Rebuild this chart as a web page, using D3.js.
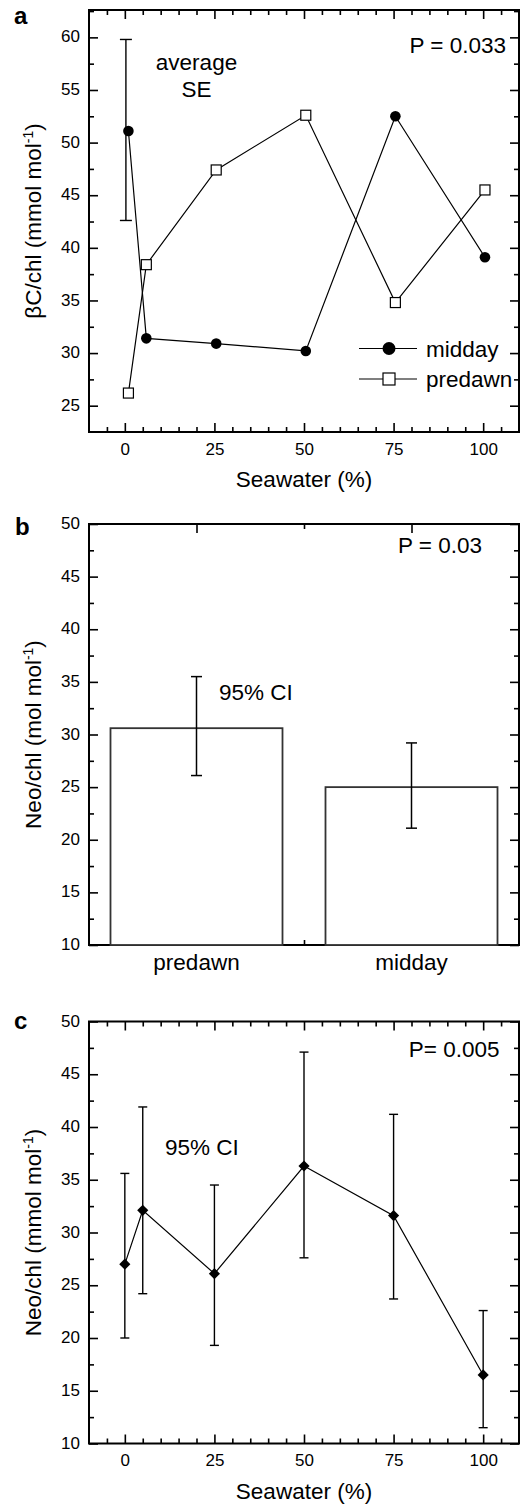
<!DOCTYPE html>
<html>
<head>
<meta charset="utf-8">
<script src="https://cdn.jsdelivr.net/npm/d3@7"></script>
<style>
body { margin: 0; background: #fff; }
text { font-family: "Liberation Sans", Arial, Helvetica, sans-serif; fill: #000; }
</style>
</head>
<body>
<div id="canvas"></div>
<script>
"use strict"

/* Panel a: beta-carotene / chl against seawater (%) */
let seawaterA = [1, 6, 25.5, 50.5, 75.5, 100.5];
let middayA = [51.1, 31.4, 30.9, 30.2, 52.5, 39.1];
let predawnA = [26.2, 38.4, 47.4, 52.6, 34.8, 45.5];
// "average SE" bar
let seXA = [0.3];
let seLowA = [42.6];
let seHighA = [59.8];

/* Panel b: Neo/chl, predawn vs midday, 95% CI */
let categoriesB = ["predawn", "midday"];
let valuesB = [30.6, 25.0];
let ciLowB = [26.1, 21.1];
let ciHighB = [35.5, 29.2];

/* Panel c: Neo/chl against seawater (%), 95% CI */
let seawaterC = [0, 5, 25, 50, 75, 100];
let neoC = [27.0, 32.1, 26.1, 36.3, 31.6, 16.5];
let ciLowC = [20.0, 24.2, 19.3, 27.6, 23.7, 11.5];
let ciHighC = [35.6, 41.9, 34.5, 47.1, 41.2, 22.6];

/* tick values */
let xTicks = [0, 25, 50, 75, 100];
let yTicksA = [25, 30, 35, 40, 45, 50, 55, 60];
let yTicksBC = [10, 15, 20, 25, 30, 35, 40, 45, 50];

/* drawing config */
let svgWidth = 520;
let svgHeight = 1507;
let plotLeft = 89;
let plotRight = 519;
let textSize = 22.5;
let tickFont = 17;
let majorLen = 9;
let minorLen = 5;

let svg = d3.select("#canvas")
    .append("svg")
    .attr("width", svgWidth)
    .attr("height", svgHeight);

/* minor ticks between majors */
function minorTicks(lo, hi, step, majors) {
    let out = [];
    let n = Math.round((hi - lo) / step);
    for (let i = 0; i <= n; i++) {
        let v = +(lo + i * step).toFixed(4);
        if (!majors.includes(v)) out.push(v);
    }
    return out;
}

/* frame with inward ticks on all four sides */
function drawFrame(x, y, xMajor, xMinor, yMajor, yMinor, xFormat) {
    let top = y.range()[1], bottom = y.range()[0];
    let left = x.range()[0], right = x.range()[1];
    let g = svg.append("g");

    let styleAxis = function(sel) {
        sel.select(".domain").remove();
        sel.selectAll("line").attr("stroke", "#000").attr("stroke-width", 1.6);
        sel.attr("font-family", null).attr("font-size", tickFont);
    };

    // bottom
    g.append("g").attr("transform", `translate(0,${bottom})`)
        .call(d3.axisBottom(x).tickValues(xMajor).tickSize(-majorLen).tickPadding(10.5)
            .tickFormat(xFormat))
        .call(styleAxis);
    g.append("g").attr("transform", `translate(0,${bottom})`)
        .call(d3.axisBottom(x).tickValues(xMinor).tickSize(-minorLen).tickFormat(""))
        .call(styleAxis);
    // top
    g.append("g").attr("transform", `translate(0,${top})`)
        .call(d3.axisTop(x).tickValues(xMajor).tickSize(-majorLen).tickFormat(""))
        .call(styleAxis);
    g.append("g").attr("transform", `translate(0,${top})`)
        .call(d3.axisTop(x).tickValues(xMinor).tickSize(-minorLen).tickFormat(""))
        .call(styleAxis);
    // left
    g.append("g").attr("transform", `translate(${left},0)`)
        .call(d3.axisLeft(y).tickValues(yMajor).tickSize(-majorLen).tickPadding(9))
        .call(styleAxis)
        .selectAll("text").attr("dy", "0.27em");
    g.append("g").attr("transform", `translate(${left},0)`)
        .call(d3.axisLeft(y).tickValues(yMinor).tickSize(-minorLen).tickFormat(""))
        .call(styleAxis);
    // right
    g.append("g").attr("transform", `translate(${right},0)`)
        .call(d3.axisRight(y).tickValues(yMajor).tickSize(-majorLen).tickFormat(""))
        .call(styleAxis);
    g.append("g").attr("transform", `translate(${right},0)`)
        .call(d3.axisRight(y).tickValues(yMinor).tickSize(-minorLen).tickFormat(""))
        .call(styleAxis);

    g.append("rect")
        .attr("x", left)
        .attr("y", top)
        .attr("width", right - left)
        .attr("height", bottom - top)
        .attr("fill", "none")
        .attr("stroke", "#000")
        .attr("stroke-width", 2);
}

/* rotated y title with superscript -1 */
function yTitle(cx, cy, main, unit) {
    let t = svg.append("text")
        .attr("transform", `translate(${cx},${cy}) rotate(-90)`)
        .attr("text-anchor", "middle")
        .attr("font-size", textSize);
    t.append("tspan").text(main + " (" + unit);
    t.append("tspan").attr("font-size", 14).attr("dy", -8).text("-1");
    t.append("tspan").attr("dy", 8).text(")");
}

function addText(x, y, str, anchor, size, weight) {
    return svg.append("text")
        .attr("x", x)
        .attr("y", y)
        .attr("text-anchor", anchor || "start")
        .attr("font-size", size || textSize)
        .attr("font-weight", weight || "normal")
        .text(str);
}

/* error bar with caps */
function errorBar(px, pyLow, pyHigh, capHalf, width) {
    svg.append("line").attr("x1", px).attr("x2", px).attr("y1", pyLow).attr("y2", pyHigh)
        .attr("stroke", "#000").attr("stroke-width", width);
    [pyLow, pyHigh].forEach(function(py) {
        svg.append("line").attr("x1", px - capHalf).attr("x2", px + capHalf)
            .attr("y1", py).attr("y2", py)
            .attr("stroke", "#000").attr("stroke-width", width);
    });
}

/**** Panel a ****/
let xA = d3.scaleLinear().domain([-10, 110]).range([plotLeft, plotRight]);
let yA = d3.scaleLinear().domain([22.5, 62.6]).range([432, 10]);

drawFrame(xA, yA, xTicks, minorTicks(-5, 105, 5, xTicks),
    yTicksA, minorTicks(25, 62.5, 2.5, yTicksA), d3.format("d"));

seXA.forEach(function(d, i) {
    errorBar(xA(d), yA(seLowA[i]), yA(seHighA[i]), 6, 1.4);
});

let lineA = d3.line()
    .x(function(d) { return xA(d[0]) })
    .y(function(d) { return yA(d[1]) });

let middayPts = seawaterA.map(function(d, i) { return [d, middayA[i]] });
let predawnPts = seawaterA.map(function(d, i) { return [d, predawnA[i]] });

svg.append("path").attr("d", lineA(middayPts))
    .attr("fill", "none").attr("stroke", "#000").attr("stroke-width", 1.2);
svg.append("path").attr("d", lineA(predawnPts))
    .attr("fill", "none").attr("stroke", "#000").attr("stroke-width", 1.2);

svg.selectAll(".midday")
    .data(middayPts)
    .join("circle")
    .attr("class", "midday")
    .attr("cx", function(d) { return xA(d[0]) })
    .attr("cy", function(d) { return yA(d[1]) })
    .attr("r", 5.3)
    .attr("fill", "#000");

svg.selectAll(".predawn")
    .data(predawnPts)
    .join("rect")
    .attr("class", "predawn")
    .attr("x", function(d) { return xA(d[0]) - 5 })
    .attr("y", function(d) { return yA(d[1]) - 5 })
    .attr("width", 10)
    .attr("height", 10)
    .attr("fill", "#fff")
    .attr("stroke", "#000")
    .attr("stroke-width", 1.2);

/* legend */
svg.append("line").attr("x1", 359).attr("x2", 417).attr("y1", 348.5).attr("y2", 348.5)
    .attr("stroke", "#000").attr("stroke-width", 1.2);
svg.append("circle").attr("cx", 389).attr("cy", 348.5).attr("r", 6.5).attr("fill", "#000");
addText(426, 356.5, "midday");
svg.append("line").attr("x1", 359).attr("x2", 417).attr("y1", 379).attr("y2", 379)
    .attr("stroke", "#000").attr("stroke-width", 1.2);
svg.append("rect").attr("x", 383).attr("y", 373).attr("width", 12).attr("height", 12)
    .attr("fill", "#fff").attr("stroke", "#000").attr("stroke-width", 1.2);
addText(426, 387, "predawn");

addText(196.5, 69.5, "average", "middle");
addText(196.5, 96.5, "SE", "middle");
addText(506, 53, "P = 0.033", "end");
addText(14, 24, "a", "start", 24, "bold");
addText((plotLeft + plotRight) / 2, 487, "Seawater (%)", "middle");
yTitle(40.5, 221, "\u03B2C/chl", "mmol mol");

/**** Panel b ****/
let xB = d3.scaleLinear().domain([0.5, 2.5]).range([plotLeft, plotRight]);
let yB = d3.scaleLinear().domain([10, 50]).range([945, 524]);
let barWidth = 0.8;

drawFrame(xB, yB, [1, 2], [1.5], yTicksBC, minorTicks(10, 50, 2.5, yTicksBC),
    function() { return "" });

svg.selectAll(".bar")
    .data(valuesB)
    .join("rect")
    .attr("class", "bar")
    .attr("x", function(d, i) { return xB(i + 1 - barWidth / 2) })
    .attr("width", xB(barWidth) - xB(0))
    .attr("y", function(d) { return yB(d) })
    .attr("height", function(d) { return yB(10) - yB(d) })
    .attr("fill", "#fff")
    .attr("stroke", "#333")
    .attr("stroke-width", 1.8);

valuesB.forEach(function(d, i) {
    errorBar(xB(i + 1), yB(ciLowB[i]), yB(ciHighB[i]), 5.5, 1.5);
});

categoriesB.forEach(function(d, i) {
    addText(xB(i + 1), 970, d, "middle");
});

addText(219, 700, "95% CI");
addText(482, 553, "P = 0.03", "end");
addText(15, 535, "b", "start", 24, "bold");
yTitle(40.5, 734.5, "Neo/chl", "mol mol");

/**** Panel c ****/
let xC = d3.scaleLinear().domain([-10, 110]).range([plotLeft, plotRight]);
let yC = d3.scaleLinear().domain([10, 50]).range([1443.5, 1021.5]);

drawFrame(xC, yC, xTicks, minorTicks(-5, 105, 5, xTicks),
    yTicksBC, minorTicks(10, 50, 2.5, yTicksBC), d3.format("d"));

seawaterC.forEach(function(d, i) {
    errorBar(xC(d), yC(ciLowC[i]), yC(ciHighC[i]), 4.5, 1.4);
});

let neoPts = seawaterC.map(function(d, i) { return [d, neoC[i]] });

svg.append("path")
    .attr("d", d3.line()
        .x(function(d) { return xC(d[0]) })
        .y(function(d) { return yC(d[1]) })(neoPts))
    .attr("fill", "none").attr("stroke", "#000").attr("stroke-width", 1.2);

svg.selectAll(".diamond")
    .data(neoPts)
    .join("path")
    .attr("class", "diamond")
    .attr("d", d3.symbol(d3.symbolSquare).size(62))
    .attr("transform", function(d) {
        return `translate(${xC(d[0])},${yC(d[1])}) rotate(45)`
    })
    .attr("fill", "#000");

addText(165, 1155, "95% CI");
addText(499.5, 1056.5, "P= 0.005", "end");
addText(14, 1029, "c", "start", 24, "bold");
addText((plotLeft + plotRight) / 2, 1499, "Seawater (%)", "middle");
yTitle(40.5, 1232.5, "Neo/chl", "mmol mol");
</script>
</body>
</html>
